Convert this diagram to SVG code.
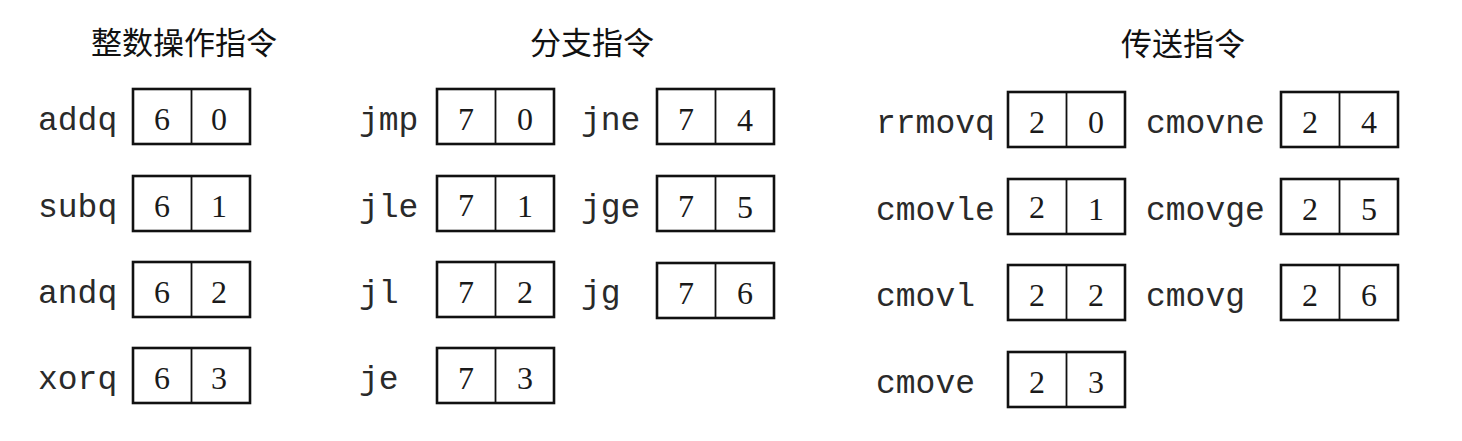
<svg xmlns="http://www.w3.org/2000/svg" width="1462" height="441" viewBox="0 0 1462 441">
<style>
.bg{fill:#ffffff}
.title{font-family:"Noto Sans CJK SC","Noto Sans CJK JP",sans-serif;font-size:31px;font-weight:400;fill:#111;text-anchor:middle}
.lbl{font-family:"Liberation Mono","DejaVu Sans Mono",monospace;font-size:33px;fill:#2a2a2a}
.dig{font-family:"Liberation Serif","Times New Roman",serif;font-size:32px;fill:#1a1a1a;text-anchor:middle}
.box{fill:none;stroke:#111;stroke-width:2.6}
.div{stroke:#111;stroke-width:1.8}
</style>
<defs>
<g id="cell">
<rect class="box" x="0" y="0" width="117" height="55"/>
<line class="div" x1="58.5" y1="0" x2="58.5" y2="55"/>
</g>
</defs>
<rect class="bg" x="0" y="0" width="1462" height="441"/>
<g id="titles">
<text class="title" x="184" y="54">整数操作指令</text>
<text class="title" x="592" y="54">分支指令</text>
<text class="title" x="1183" y="55">传送指令</text>
</g>
<g id="addq"><text class="lbl" x="38" y="130">addq</text><use href="#cell" x="133" y="89"/><text class="dig" x="162" y="130">6</text><text class="dig" x="219" y="130">0</text></g>
<g id="subq"><text class="lbl" x="38" y="217">subq</text><use href="#cell" x="133" y="176"/><text class="dig" x="162" y="217">6</text><text class="dig" x="219" y="217">1</text></g>
<g id="andq"><text class="lbl" x="38" y="303">andq</text><use href="#cell" x="133" y="262"/><text class="dig" x="162" y="303">6</text><text class="dig" x="219" y="303">2</text></g>
<g id="xorq"><text class="lbl" x="38" y="389">xorq</text><use href="#cell" x="133" y="348"/><text class="dig" x="162" y="389">6</text><text class="dig" x="219" y="389">3</text></g>

<g id="jmp"><text class="lbl" x="359" y="130">jmp</text><use href="#cell" x="437" y="89"/><text class="dig" x="466" y="130">7</text><text class="dig" x="525" y="130">0</text></g>
<g id="jle"><text class="lbl" x="359" y="217">jle</text><use href="#cell" x="437" y="176"/><text class="dig" x="466" y="216">7</text><text class="dig" x="525" y="217">1</text></g>
<g id="jl"><text class="lbl" x="359" y="303">jl</text><use href="#cell" x="437" y="262"/><text class="dig" x="466" y="303">7</text><text class="dig" x="525" y="303">2</text></g>
<g id="je"><text class="lbl" x="359" y="389">je</text><use href="#cell" x="437" y="348"/><text class="dig" x="466" y="389">7</text><text class="dig" x="525" y="389">3</text></g>

<g id="jne"><text class="lbl" x="581" y="130">jne</text><use href="#cell" x="657" y="89"/><text class="dig" x="686" y="130">7</text><text class="dig" x="745" y="131">4</text></g>
<g id="jge"><text class="lbl" x="581" y="217">jge</text><use href="#cell" x="657" y="176"/><text class="dig" x="686" y="217">7</text><text class="dig" x="745" y="218">5</text></g>
<g id="jg"><text class="lbl" x="581" y="303">jg</text><use href="#cell" x="657" y="263"/><text class="dig" x="686" y="304">7</text><text class="dig" x="745" y="304">6</text></g>

<g id="rrmovq"><text class="lbl" x="876" y="133">rrmovq</text><use href="#cell" x="1008" y="92"/><text class="dig" x="1037" y="133">2</text><text class="dig" x="1096" y="133">0</text></g>
<g id="cmovle"><text class="lbl" x="876" y="220">cmovle</text><use href="#cell" x="1008" y="179"/><text class="dig" x="1037" y="218">2</text><text class="dig" x="1096" y="220">1</text></g>
<g id="cmovl"><text class="lbl" x="876" y="306">cmovl</text><use href="#cell" x="1008" y="265"/><text class="dig" x="1037" y="306">2</text><text class="dig" x="1096" y="306">2</text></g>
<g id="cmove"><text class="lbl" x="876" y="393">cmove</text><use href="#cell" x="1008" y="352"/><text class="dig" x="1037" y="393">2</text><text class="dig" x="1096" y="393">3</text></g>

<g id="cmovne"><text class="lbl" x="1146" y="133">cmovne</text><use href="#cell" x="1281" y="92"/><text class="dig" x="1310" y="133">2</text><text class="dig" x="1369" y="133">4</text></g>
<g id="cmovge"><text class="lbl" x="1146" y="220">cmovge</text><use href="#cell" x="1281" y="179"/><text class="dig" x="1310" y="220">2</text><text class="dig" x="1369" y="220">5</text></g>
<g id="cmovg"><text class="lbl" x="1146" y="306">cmovg</text><use href="#cell" x="1281" y="265"/><text class="dig" x="1310" y="306">2</text><text class="dig" x="1369" y="306">6</text></g>
</svg>
